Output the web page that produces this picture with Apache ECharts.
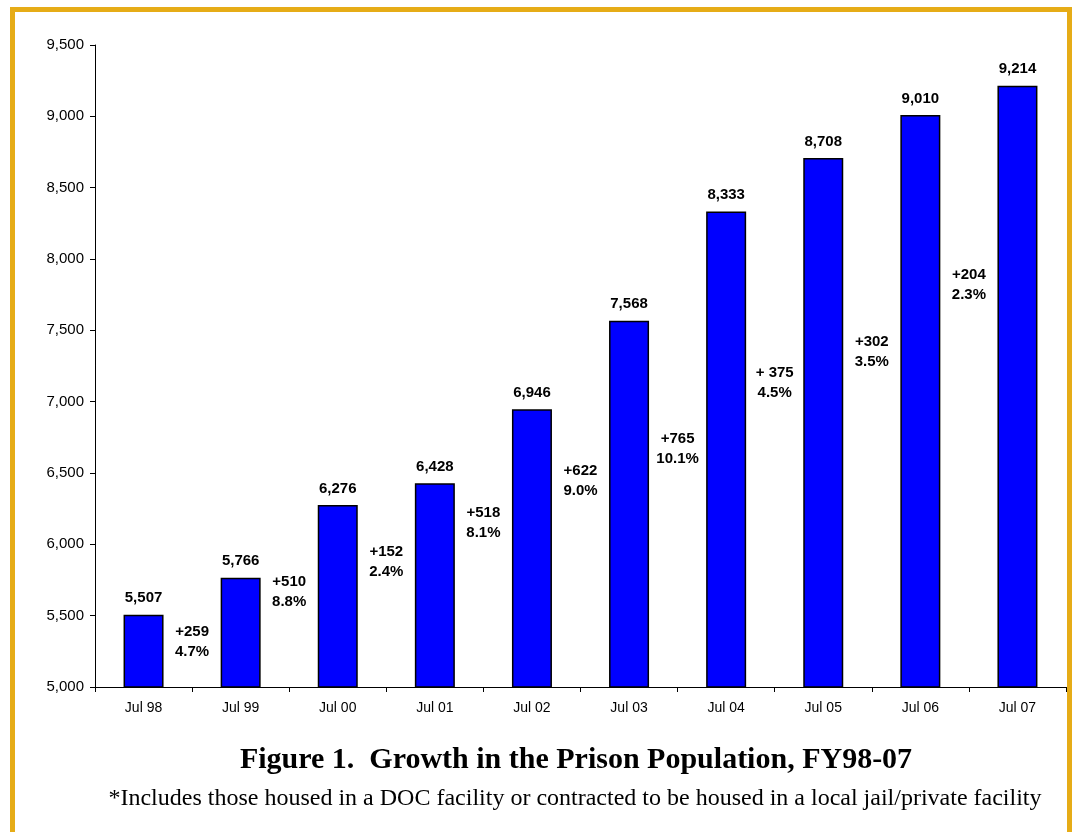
<!DOCTYPE html>
<html>
<head>
<meta charset="utf-8">
<script src="https://cdn.jsdelivr.net/npm/echarts@6/dist/echarts.min.js"></script>
<style>
  html, body { margin: 0; padding: 0; background: #fff; }
  #chart { width: 1073px; height: 832px; }
</style>
</head>
<body>
<div id="chart"></div>
<script>
// data
const categories = ['Jul 98', 'Jul 99', 'Jul 00', 'Jul 01', 'Jul 02', 'Jul 03', 'Jul 04', 'Jul 05', 'Jul 06', 'Jul 07'];
const population = [5507, 5766, 6276, 6428, 6946, 7568, 8333, 8708, 9010, 9214];

// year-over-year change labels, drawn between bars
const changeText = ['+259\n4.7%', '+510\n8.8%', '+152\n2.4%', '+518\n8.1%', '+622\n9.0%', '+765\n10.1%', '+ 375\n4.5%', '+302\n3.5%', '+204\n2.3%'];
const changeAt = [5315, 5666, 5877, 6150, 6444, 6669, 7132, 7349, 7819];

const chart = echarts.init(document.getElementById('chart'));

const changeData = changeAt.map((v, i) => [i + 1, v, changeText[i]]);

chart.setOption({
  animation: false,
  textStyle: { fontFamily: 'Liberation Sans, Arial, sans-serif' },
  title: [
    {
      text: 'Figure 1.  Growth in the Prison Population, FY98-07',
      left: 571,
      top: 740,
      textAlign: 'center',
      textStyle: { fontFamily: 'Liberation Serif, Times New Roman, serif', fontSize: 30, fontWeight: 'bold', color: '#000' }
    },
    {
      text: '*Includes those housed in a DOC facility or contracted to be housed in a local jail/private facility',
      left: 570,
      top: 782,
      textAlign: 'center',
      textStyle: { fontFamily: 'Liberation Serif, Times New Roman, serif', fontSize: 24, fontWeight: 'normal', color: '#000' }
    }
  ],
  graphic: [
    {
      type: 'rect',
      shape: { x: 12.5, y: 9.5, width: 1057, height: 900 },
      style: { fill: 'none', stroke: '#E6AC17', lineWidth: 5 },
      silent: true
    }
  ],
  grid: { left: 95, top: 45, width: 971, height: 642, containLabel: false },
  xAxis: [
    {
      type: 'category',
      data: categories,
      axisLine: { lineStyle: { color: '#000', width: 1 } },
      axisTick: { show: true, alignWithLabel: false, length: 5, lineStyle: { color: '#000' } },
      axisLabel: { color: '#000', fontSize: 14, margin: 14 },
      splitLine: { show: false }
    },
    {
      type: 'value',
      min: 0,
      max: 10,
      show: false
    }
  ],
  yAxis: {
    type: 'value',
    min: 5000,
    max: 9500,
    interval: 500,
    axisLine: { show: true, lineStyle: { color: '#000', width: 1 } },
    axisTick: { show: true, length: 5, lineStyle: { color: '#000' } },
    axisLabel: {
      color: '#000',
      fontSize: 15,
      margin: 11,
      formatter: v => v.toLocaleString('en-US')
    },
    splitLine: { show: false }
  },
  series: [
    {
      name: 'Population',
      type: 'bar',
      data: population,
      barWidth: 40,
      itemStyle: { color: '#0000FF', borderColor: '#000', borderWidth: 1.5 },
      label: {
        show: true,
        position: 'top',
        distance: 9,
        color: '#000',
        fontSize: 15,
        fontWeight: 'bold',
        formatter: p => p.value.toLocaleString('en-US')
      }
    },
    {
      name: 'Change',
      type: 'scatter',
      xAxisIndex: 1,
      data: changeData,
      symbolSize: 0,
      itemStyle: { opacity: 1 },
      label: {
        show: true,
        position: 'inside',
        color: '#000',
        opacity: 1,
        fontSize: 15,
        fontWeight: 'bold',
        lineHeight: 20,
        align: 'center',
        formatter: p => p.data[2]
      }
    }
  ]
});
</script>
</body>
</html>
